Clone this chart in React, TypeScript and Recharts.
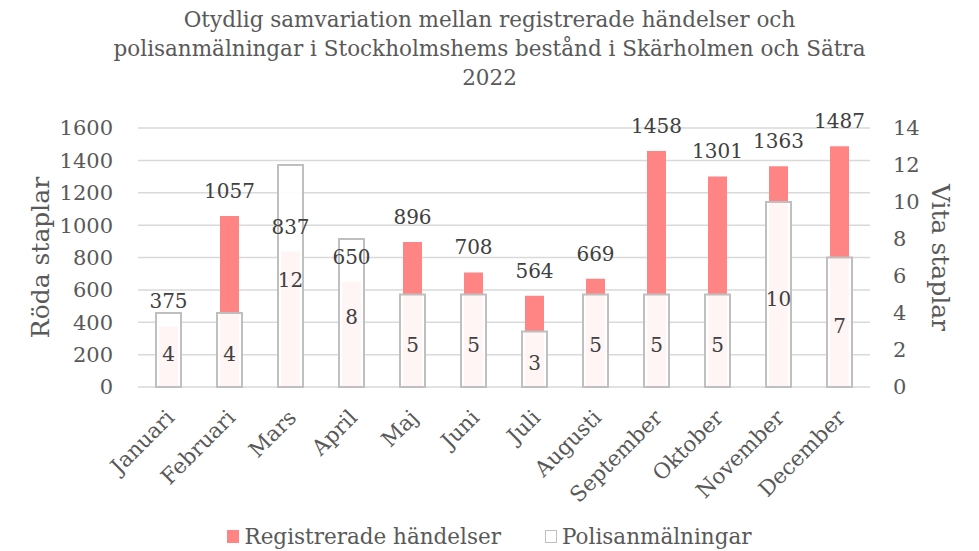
import React from 'react';
import { BarChart, Bar, XAxis, YAxis, CartesianGrid, LabelList } from 'recharts';

const months = ['Januari', 'Februari', 'Mars', 'April', 'Maj', 'Juni', 'Juli', 'Augusti', 'September', 'Oktober', 'November', 'December'];
const registrerade = [375, 1057, 837, 650, 896, 708, 564, 669, 1458, 1301, 1363, 1487];
const polisanmalningar = [4, 4, 12, 8, 5, 5, 3, 5, 5, 5, 10, 7];
const leftTicks = [0, 200, 400, 600, 800, 1000, 1200, 1400, 1600];
const rightTicks = [0, 2, 4, 6, 8, 10, 12, 14];

const title = ['Otydlig samvariation mellan registrerade händelser och', 'polisanmälningar i Stockholmshems bestånd i Skärholmen och Sätra', '2022'];
const seriesNames = ['Registrerade händelser', 'Polisanmälningar'];
const axisTitles = ['Röda staplar', 'Vita staplar'];

const data = months.map((m, i) => ({ month: m, reg: registrerade[i], pol: polisanmalningar[i] }));

const FONT = '"DejaVu Serif", serif';
const TXT = '#595959';
const LBL = '#404040';
const RED = '#ff8585';

const XTick = (props: any) => {
  const { x, y, payload } = props;
  const ax = x + 7;
  const ay = y + 24;
  return (
    <text x={ax} y={ay} textAnchor="end" transform={`rotate(-45, ${ax}, ${ay})`} fill={TXT} fontSize={21.5} fontFamily={FONT}>
      {payload.value}
    </text>
  );
};

const LeftTitle = (props: any) => {
  const vb = props.viewBox || {};
  const cx = vb.x - 10;
  const cy = vb.y + vb.height / 2;
  return (
    <text x={cx} y={cy} textAnchor="middle" dominantBaseline="central" transform={`rotate(-90, ${cx}, ${cy})`} fill={TXT} fontSize={25} fontFamily={FONT}>
      {axisTitles[0]}
    </text>
  );
};

const RightTitle = (props: any) => {
  const vb = props.viewBox || {};
  const cx = vb.x + 70;
  const cy = vb.y + vb.height / 2;
  return (
    <text x={cx} y={cy} textAnchor="middle" dominantBaseline="central" transform={`rotate(90, ${cx}, ${cy})`} fill={TXT} fontSize={25} fontFamily={FONT}>
      {axisTitles[1]}
    </text>
  );
};

const CenterLabel = (props: any) => {
  const { x, y, width, height, value } = props;
  return (
    <text x={x + width / 2} y={y + height / 2 + 4} textAnchor="middle" dominantBaseline="central" fill={LBL} fontSize={20} fontFamily={FONT}>
      {value}
    </text>
  );
};

const TopLabel = (props: any) => {
  const { x, y, width, value } = props;
  return (
    <text x={x + width / 2} y={y - 25} textAnchor="middle" dominantBaseline="central" fill={LBL} fontSize={20} fontFamily={FONT}>
      {value}
    </text>
  );
};

export default function App() {
  return (
    <div style={{ position: 'absolute', left: 0, top: 0, width: 979, height: 551, background: '#fff', fontFamily: FONT }}>
      <div style={{ position: 'absolute', left: 0, top: 5, width: 979, textAlign: 'center', color: TXT, fontSize: 21.5, lineHeight: '29px' }}>
        {title.map((t) => (
          <div key={t}>{t}</div>
        ))}
      </div>
      <BarChart width={979} height={551} data={data} margin={{ top: 128, right: 50, bottom: 64, left: 50 }}>
        <CartesianGrid vertical={false} stroke="#d9d9d9" strokeWidth={1.5} yAxisId="left" xAxisId="a" />
        <XAxis xAxisId="a" dataKey="month" interval={0} height={100} tickLine={false} axisLine={false} tick={<XTick />} />
        <XAxis xAxisId="b" dataKey="month" hide />
        <XAxis xAxisId="c" dataKey="month" hide />
        <YAxis yAxisId="left" domain={[0, 1600]} ticks={leftTicks} width={88} axisLine={false} tickLine={false} tickSize={0} tickMargin={25}
          tick={{ fill: TXT, fontSize: 21, fontFamily: FONT }} label={<LeftTitle />} />
        <YAxis yAxisId="right" orientation="right" domain={[0, 14]} ticks={rightTicks} width={59} axisLine={false} tickLine={false} tickSize={0} tickMargin={23}
          tick={{ fill: TXT, fontSize: 21, fontFamily: FONT }} label={<RightTitle />} />
        <Bar dataKey="reg" xAxisId="b" yAxisId="left" fill={RED} barSize={19} isAnimationActive={false} />
        <Bar dataKey="pol" xAxisId="a" yAxisId="right" fill="#ffffff" fillOpacity={0.92} stroke="#bfbfbf" strokeWidth={2} barSize={25} isAnimationActive={false}>
          <LabelList dataKey="pol" content={<CenterLabel />} />
        </Bar>
        <Bar dataKey="reg" xAxisId="c" yAxisId="left" fill="transparent" barSize={19} isAnimationActive={false}>
          <LabelList dataKey="reg" content={<TopLabel />} />
        </Bar>
      </BarChart>
      <div style={{ position: 'absolute', left: 0, top: 524, width: 979, display: 'flex', justifyContent: 'center', alignItems: 'center', color: TXT, fontSize: 21.5 }}>
        <span style={{ display: 'inline-block', width: 12, height: 13, background: RED, marginRight: 5 }} />
        <span style={{ marginRight: 44 }}>{seriesNames[0]}</span>
        <span style={{ display: 'inline-block', width: 10, height: 11, background: '#fff', border: '1.5px solid #bfbfbf', marginRight: 5 }} />
        <span>{seriesNames[1]}</span>
      </div>
    </div>
  );
}
